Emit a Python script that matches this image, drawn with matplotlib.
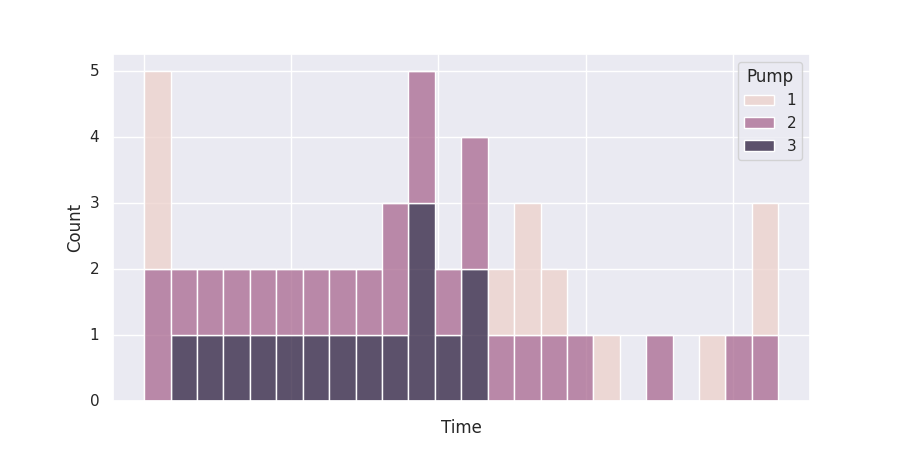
import numpy as np
import pandas as pd
import matplotlib
matplotlib.use("Agg")
import matplotlib.pyplot as plt
import seaborn as sns

sns.set_theme()

# time span of the record (days) and number of bins
t_start = 0.0
t_end = 4.31
n_bins = 24

# counts per bin for each pump (stacked histogram)
pump1_counts = [3, 0, 0, 0, 0, 0, 0, 0, 0, 0, 0, 0, 0, 1, 2, 1, 0, 1, 0, 0, 0, 1, 0, 2]
pump2_counts = [2, 1, 1, 1, 1, 1, 1, 1, 1, 2, 2, 1, 2, 1, 1, 1, 1, 0, 0, 1, 0, 0, 1, 1]
pump3_counts = [0, 1, 1, 1, 1, 1, 1, 1, 1, 1, 3, 1, 2, 0, 0, 0, 0, 0, 0, 0, 0, 0, 0, 0]

edges = np.linspace(t_start, t_end, n_bins + 1)
centers = (edges[:-1] + edges[1:]) / 2

times = []
pumps = []
for pump, counts in [(1, pump1_counts), (2, pump2_counts), (3, pump3_counts)]:
    t = np.repeat(centers, counts)
    times.extend(t)
    pumps.extend([pump] * len(t))

df = pd.DataFrame({"Time": times, "Pump": pumps})

fig, ax = plt.subplots(figsize=(9, 4.5), dpi=100)
sns.histplot(data=df, x="Time", hue="Pump", bins=n_bins, binrange=(t_start, t_end),
             multiple="stack", ax=ax)

ax.set_xticks([0, 1, 2, 3, 4])
ax.set_xticklabels([])

fig.savefig("out.png", dpi=100)
